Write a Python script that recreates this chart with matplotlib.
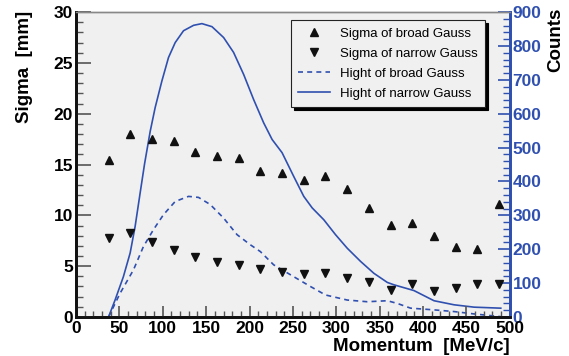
import matplotlib
matplotlib.use('Agg')
import matplotlib.pyplot as plt
from matplotlib.ticker import MultipleLocator

# data
mom = [37.5, 62.5, 87.5, 112.5, 137.5, 162.5, 187.5, 212.5, 237.5, 262.5,
       287.5, 312.5, 337.5, 362.5, 387.5, 412.5, 437.5, 462.5, 487.5]
sig_broad = [15.4, 18.0, 17.5, 17.3, 16.2, 15.8, 15.6, 14.4, 14.2, 13.5,
             13.9, 12.6, 10.7, 9.1, 9.2, 8.0, 6.9, 6.7, 11.15]
sig_narrow = [7.8, 8.3, 7.4, 6.6, 5.9, 5.4, 5.1, 4.7, 4.4, 4.2,
              4.3, 3.8, 3.4, 2.7, 3.2, 2.6, 2.9, 3.2, 3.2]

# hight curves (counts)
x_nar = [37.5, 45, 54.6, 62.4, 68.1, 73.9, 79, 85.5, 91.2, 98.9, 106.6,
         114.3, 123.9, 135.5, 145.1, 156.7, 170.1, 181.6, 193.2, 204.7,
         216.3, 226, 237.5, 250.9, 262.5, 272.2, 285.6, 299.1, 312.6, 328,
         343.3, 358.8, 366.4, 389.5, 412.6, 435.7, 458.8, 489.6]
h_nar = [0, 50, 119, 189, 267, 366, 452, 548, 618, 696, 766,
         810, 845, 861, 866, 857, 825, 781, 716, 642,
         573, 524, 485, 415, 356, 322, 287, 243, 203, 164,
         129, 102, 95, 78, 48, 36, 29, 26]
x_brd = [37.5, 50.8, 66.2, 77.7, 89.3, 100.8, 114.3, 129.7, 141.2, 154.7,
         170.1, 185.6, 201, 212.5, 227.8, 250.9, 270.2, 287.5, 312.6, 335.7,
         358.8, 370.3, 385.7, 412.6, 435.7, 458.8, 489.6]
h_brd = [0, 70, 139, 208, 258, 302, 341, 356, 353, 332,
         292, 243, 213, 193, 154, 119, 90, 65, 50, 45,
         48, 40, 26, 21, 16, 9, 1]

blue = '#3050b0'
plt.rcParams['font.family'] = ['Liberation Sans', 'DejaVu Sans']

fig = plt.figure(figsize=(5.69, 3.56), dpi=100)
ax = fig.add_axes([0.1336, 0.1096, 0.7624, 0.8564])
ax2 = ax.twinx()

l1, = ax.plot(mom, sig_broad, '^', color='#111111', ms=6, ls='none')
l2, = ax.plot(mom, sig_narrow, 'v', color='#111111', ms=6, ls='none')
l3, = ax2.plot(x_brd, h_brd, '--', color=blue, lw=1.2, dashes=(3, 2.5))
l4, = ax2.plot(x_nar, h_nar, '-', color=blue, lw=1.2)

ax.set_xlim(0, 500)
ax.set_ylim(0, 30)
ax2.set_ylim(0, 900)

ax.xaxis.set_major_locator(MultipleLocator(50))
ax.xaxis.set_minor_locator(MultipleLocator(10))
ax.yaxis.set_major_locator(MultipleLocator(5))
ax.yaxis.set_minor_locator(MultipleLocator(1))
ax2.yaxis.set_major_locator(MultipleLocator(100))
ax2.yaxis.set_minor_locator(MultipleLocator(20))

ax.tick_params(axis='y', which='major', direction='in', length=11, width=1.2,
               color='#555555', labelsize=12.5, pad=2)
ax.tick_params(axis='y', which='minor', direction='in', length=5, width=1,
               color='#555555')
ax.tick_params(axis='x', which='major', direction='in', length=8, width=1.2,
               color='#555555', labelsize=12.5, pad=3)
ax.tick_params(axis='x', which='minor', direction='in', length=4, width=1,
               color='#555555')
ax.tick_params(top=False, which='both')
ax2.tick_params(axis='y', which='major', direction='in', length=9, width=1.2,
                color=blue, labelcolor=blue, labelsize=12.5, pad=2)
ax2.tick_params(axis='y', which='minor', direction='in', length=5, width=1,
                color=blue)

for lab in ax.get_xticklabels() + ax.get_yticklabels() + ax2.get_yticklabels():
    lab.set_fontweight('bold')

for a in (ax, ax2):
    a.spines['left'].set_color('#111111')
    a.spines['left'].set_linewidth(2)
    a.spines['bottom'].set_color('#111111')
    a.spines['bottom'].set_linewidth(2)
    a.spines['top'].set_color('#888888')
    a.spines['top'].set_linewidth(1)
    a.spines['right'].set_color(blue)
    a.spines['right'].set_linewidth(2)

ax.set_ylabel('Sigma  [mm]', fontsize=13.5, fontweight='bold')
ax.set_xlabel('Momentum  [MeV/c]', fontsize=13.5, fontweight='bold',
              loc='right', labelpad=1)
ax2.set_ylabel('Counts', fontsize=13.5, fontweight='bold')
ax.yaxis.set_label_coords(-0.099, 1.005)
ax.yaxis.label.set_horizontalalignment('right')
ax2.yaxis.set_label_coords(1.087, 1.015)
ax2.yaxis.label.set_horizontalalignment('right')

leg = ax.legend([l1, l2, l3, l4],
                ['Sigma of broad Gauss', 'Sigma of narrow Gauss',
                 'Hight of broad Gauss', 'Hight of narrow Gauss'],
                loc='upper left', bbox_to_anchor=(0.495, 0.974),
                borderaxespad=0, fontsize=9.5, frameon=True, fancybox=False,
                shadow={'color': 'black', 'alpha': 1},
                edgecolor='#222222', facecolor='#f0f0f0', framealpha=1,
                handlelength=2.4, borderpad=0.55, labelspacing=0.6,
                handletextpad=0.8)
leg.get_frame().set_linewidth(0.8)
leg.set_zorder(10)
ax.set_zorder(ax2.get_zorder() + 1)
ax.patch.set_visible(False)
ax2.patch.set_visible(True)
ax2.patch.set_facecolor('#f0f0f0')

fig.savefig('out.png', dpi=100, facecolor='white')
